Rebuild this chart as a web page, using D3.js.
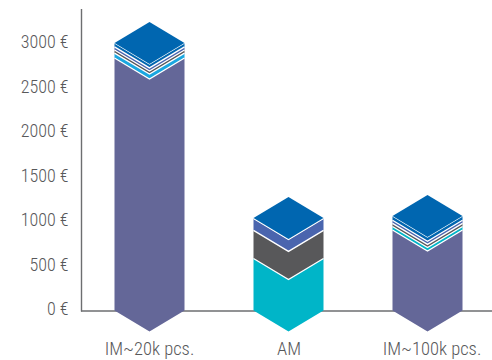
<!DOCTYPE html>
<html>
<head>
<meta charset="utf-8">
<script src="https://cdn.jsdelivr.net/npm/d3@7/dist/d3.min.js"></script>
<style>
html,body{margin:0;padding:0;background:#fff}
svg{display:block}
text{font-family:"Roboto",sans-serif;font-stretch:condensed;font-weight:300;fill:#58585a}
</style>
</head>
<body>
<svg id="chart" width="492" height="360"></svg>
<script>
const categories = ["IM~20k pcs.", "AM", "IM~100k pcs."];
const tickValues = [0, 500, 1000, 1500, 2000, 2500, 3000];

// Cost layers from the bottom of each column upward
const purpleValues = [2837, 0, 904];
const tealValues = [0, 585, 40];
const skyValues = [55, 0, 0];
const grayValues = [35, 315, 35];
const indigoValues = [35, 135, 35];
const capValues = [43, 5, 48];
const layerValues = [purpleValues, tealValues, skyValues, grayValues, indigoValues, capValues];
const layerColors = ["#646798", "#00b5c8", "#1aa7e0", "#58585a", "#4a65ae", "#0066b0"];

const svg = d3.select("#chart");
const y = d3.scaleLinear().domain([0, 3000]).range([310.5, 43.5]);
const x = d3.scalePoint().domain(categories).range([149.5, 427.5]);
const halfWidth = 35;
const chevron = 21;
const labelShift = [-0.5, 0, 4];

// Running totals per column: one {v0, v1, color} entry per non-empty layer
const columns = categories.map((c, i) => {
  let total = 0;
  const segments = [];
  layerValues.forEach((values, k) => {
    const v = values[i];
    if (v > 0) segments.push({v0: total, v1: total + v, color: layerColors[k]});
    total += v;
  });
  return {c, segments, total};
});

// Axes
const gy = svg.append("g").attr("transform", "translate(81.5,-1.5)")
  .call(d3.axisLeft(y).tickValues(tickValues).tickSize(0).tickFormat(d => d + " €"));
gy.select(".domain").remove();
gy.selectAll("text").attr("x", -13).attr("dy", "0.32em").style("font-size", "18px");
svg.append("line").attr("x1", 81.5).attr("x2", 81.5).attr("y1", 9).attr("y2", 311.5)
  .attr("stroke", "#6d6e70").attr("stroke-width", 1.4);
svg.append("line").attr("x1", 81).attr("x2", 492).attr("y1", 311).attr("y2", 311)
  .attr("stroke", "#6d6e70").attr("stroke-width", 1.4);

const gx = svg.append("g").attr("transform", "translate(0,311)")
  .call(d3.axisBottom(x).tickSize(0));
gx.select(".domain").remove();
gx.selectAll("text").attr("y", 44).attr("dy", "0").style("font-size", "18.5px")
  .attr("dx", (d, i) => labelShift[i]);

// A layer is a column slice whose top and bottom edges are both chevrons
function layerPath(cx, s) {
  const top = y(s.v1), bot = y(s.v0);
  return d3.line()([
    [cx - halfWidth, top], [cx, top + chevron], [cx + halfWidth, top],
    [cx + halfWidth, bot], [cx, bot + chevron], [cx - halfWidth, bot]
  ]) + "Z";
}

columns.forEach(col => {
  const cx = x(col.c);
  const g = svg.append("g");
  g.selectAll("path.layer").data(col.segments).join("path")
    .attr("class", "layer")
    .attr("d", s => layerPath(cx, s))
    .attr("fill", s => s.color);
  // White separator running along the top edge of each layer
  g.selectAll("path.seam").data(col.segments).join("path")
    .attr("class", "seam")
    .attr("d", s => d3.line()([[cx - halfWidth, y(s.v1)], [cx, y(s.v1) + chevron], [cx + halfWidth, y(s.v1)]]))
    .attr("fill", "none").attr("stroke", "#fff").attr("stroke-width", 1.3);
  // Diamond closing the top of the column
  const t = y(col.total);
  svg.append("path")
    .attr("d", d3.line()([[cx, t - chevron], [cx + halfWidth, t], [cx, t + chevron], [cx - halfWidth, t]]) + "Z")
    .attr("fill", layerColors[5]);
});
</script>
</body>
</html>
